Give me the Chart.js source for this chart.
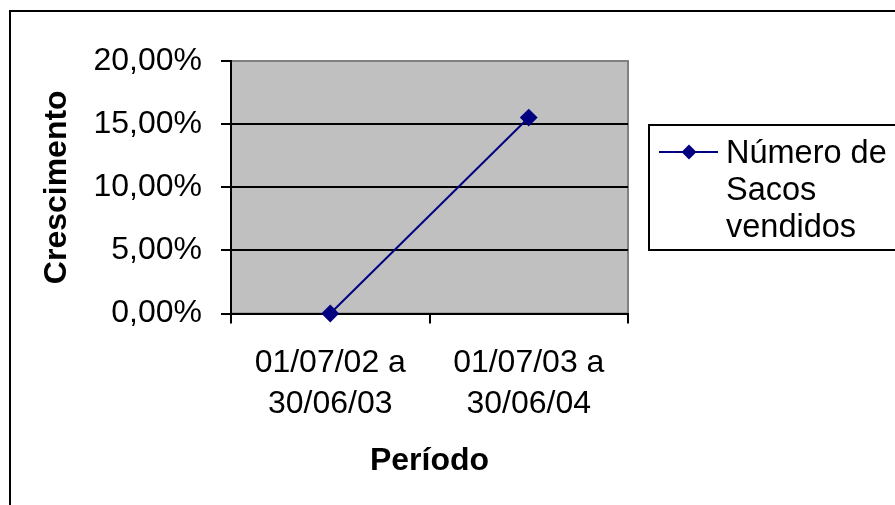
<!DOCTYPE html>
<html>
<head>
<meta charset="utf-8">
<script src="https://cdn.jsdelivr.net/npm/chart.js@4"></script>
<style>
html,body{margin:0;padding:0;background:#fff;}
canvas{display:block;}
</style>
</head>
<body>
<canvas id="c" width="895" height="505"></canvas>
<script>
const categories = [["01/07/02 a","30/06/03"],["01/07/03 a","30/06/04"]];
const seriesLabel = "Número de Sacos vendidos";
const legendLines = ["Número de","Sacos","vendidos"];
const seriesValues = [0, 15.52];
const yMin = 0, yMax = 20, yStep = 5;
const xTitle = "Período";
const yTitle = "Crescimento";

const FONT = "Arial, 'Liberation Sans', sans-serif";
const navy = "#000080";

const decorPlugin = {
  id: 'decor',
  beforeDraw(chart) {
    const {ctx, chartArea: a} = chart;
    ctx.save();
    ctx.fillStyle = '#fff';
    ctx.fillRect(0, 0, chart.width, chart.height);
    ctx.strokeStyle = '#000';
    ctx.lineWidth = 2;
    ctx.strokeRect(10, 11, 1000, 1000);
    ctx.fillStyle = '#C0C0C0';
    ctx.fillRect(a.left, a.top, a.right - a.left, a.bottom - a.top);
    ctx.strokeStyle = '#808080';
    ctx.lineWidth = 2;
    ctx.strokeRect(a.left, a.top, a.right - a.left, a.bottom - a.top);
    ctx.restore();
  },
  afterDraw(chart) {
    const {ctx} = chart;
    const ds = chart.data.datasets[0];
    ctx.save();
    ctx.fillStyle = '#fff';
    ctx.fillRect(649, 125, 300, 125);
    ctx.strokeStyle = '#000';
    ctx.lineWidth = 2;
    ctx.strokeRect(649, 125, 300, 125);
    const ly = 152;
    ctx.strokeStyle = ds.borderColor;
    ctx.lineWidth = 2;
    ctx.beginPath();
    ctx.moveTo(659, ly);
    ctx.lineTo(718, ly);
    ctx.stroke();
    ctx.fillStyle = ds.pointBackgroundColor;
    ctx.beginPath();
    const r = 7.5;
    ctx.moveTo(689, ly - r);
    ctx.lineTo(689 + r, ly);
    ctx.lineTo(689, ly + r);
    ctx.lineTo(689 - r, ly);
    ctx.closePath();
    ctx.fill();
    ctx.fillStyle = '#000';
    ctx.font = "32.5px " + FONT;
    ctx.textAlign = 'left';
    ctx.textBaseline = 'middle';
    legendLines.forEach((t, i) => ctx.fillText(t, 726, 154 + i * 37));
    ctx.restore();
  }
};

new Chart(document.getElementById('c'), {
  type: 'line',
  data: {
    labels: categories,
    datasets: [{
      label: seriesLabel,
      data: seriesValues,
      borderColor: navy,
      backgroundColor: navy,
      pointBackgroundColor: navy,
      pointBorderColor: navy,
      borderWidth: 2,
      pointStyle: 'rectRot',
      pointRadius: 7.5,
      pointHoverRadius: 7.5,
      tension: 0,
      clip: false
    }]
  },
  options: {
    responsive: false,
    animation: false,
    devicePixelRatio: 1,
    layout: { padding: { left: 0, top: 61, right: 267, bottom: 0 } },
    plugins: {
      legend: { display: false },
      tooltip: { enabled: false }
    },
    scales: {
      x: {
        type: 'category',
        offset: true,
        grid: {
          offset: true,
          drawOnChartArea: false,
          drawTicks: true,
          tickLength: 10,
          tickColor: '#000',
          tickWidth: 2,
          color: '#000',
          lineWidth: 2
        },
        border: { color: '#000', width: 2 },
        ticks: {
          color: '#000',
          font: { family: FONT, size: 32, lineHeight: 1.28 },
          padding: 19,
          maxRotation: 0,
          autoSkip: false
        },
        title: {
          display: true,
          text: xTitle,
          color: '#000',
          font: { family: FONT, size: 32, weight: 'bold', lineHeight: 1.2 },
          padding: { top: 0, bottom: 25 }
        },
        afterFit(scale) { scale.height = 191.5; }
      },
      y: {
        min: yMin,
        max: yMax,
        ticks: {
          stepSize: yStep,
          color: '#000',
          font: { family: FONT, size: 32 },
          padding: 19,
          callback: v => v.toFixed(2).replace('.', ',') + '%'
        },
        grid: {
          color: ctx => (ctx.tick && ctx.tick.value === yMax) ? '#808080' : '#000',
          lineWidth: 2,
          tickLength: 10,
          tickColor: '#000',
          tickWidth: 2
        },
        border: { color: '#000', width: 2 },
        title: {
          display: true,
          text: yTitle,
          color: '#000',
          font: { family: FONT, size: 32, weight: 'bold', lineHeight: 1.2 },
          padding: { top: 38, bottom: 0 }
        },
        afterFit(scale) { scale.width = 231; }
      }
    }
  },
  plugins: [decorPlugin]
});
</script>
</body>
</html>
